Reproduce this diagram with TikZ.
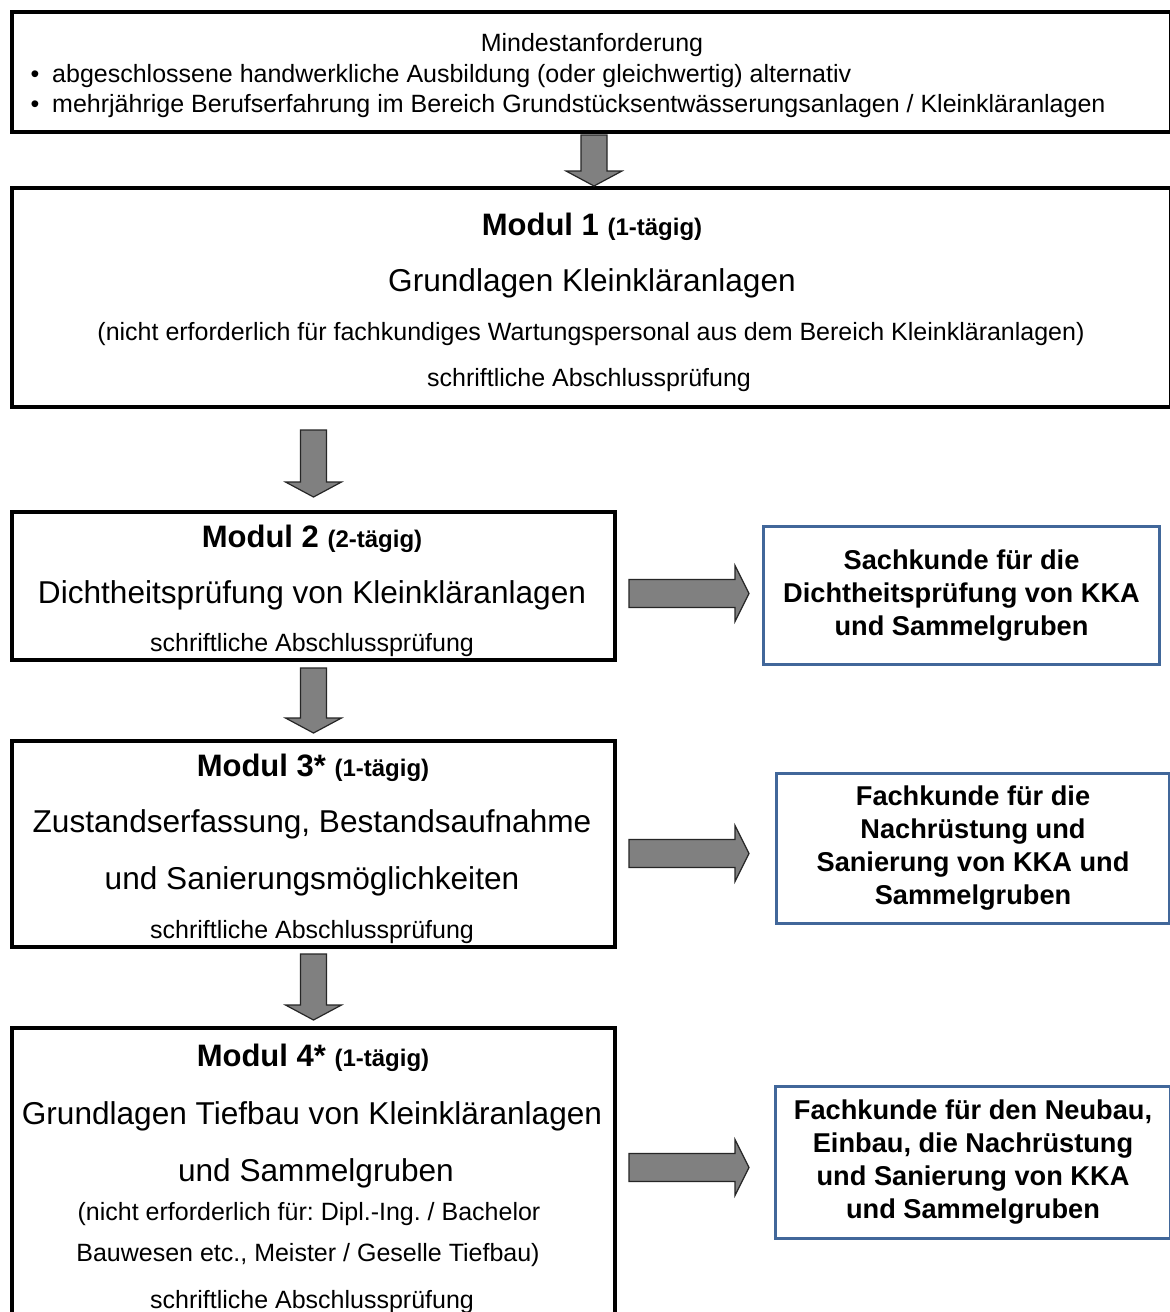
\documentclass[tikz,border=0pt]{standalone}
\usepackage{fontspec}
\setmainfont{Liberation Sans}
\usetikzlibrary{calc}
\frenchspacing
\definecolor{boxblue}{HTML}{41679A}
\definecolor{arrowgray}{HTML}{808080}
\newcommand{\fsN}{\fontsize{25}{30}\selectfont}
\newcommand{\fsL}{\fontsize{31.6}{38}\selectfont}
\newcommand{\fsH}{\bfseries\fontsize{31}{37}\selectfont}
\newcommand{\fsS}{\fontsize{24}{29}\selectfont}
\newcommand{\fsR}{\bfseries\fontsize{27.2}{33}\selectfont}
\begin{document}
\begin{tikzpicture}[x=1pt,y=-1pt,
  modbox/.style={draw=black,line width=4pt,fill=white,rectangle,inner sep=0pt,anchor=north west},
  resbox/.style={draw=boxblue,line width=3pt,fill=white,rectangle,inner sep=0pt,anchor=north west,align=center,font=\fsR},
  txt/.style={inner sep=0pt,text height=24pt,text depth=2pt},
  blockarrow/.style={draw=black!85,fill=arrowgray,line width=1.2pt,line join=miter},
  blockdown/.style={to path={($(\tikztostart)+(-13,0)$) -- ($(\tikztotarget)+(-13,-15)$) -- ($(\tikztotarget)+(-28,-15)$) -- (\tikztotarget) -- ($(\tikztotarget)+(28,-15)$) -- ($(\tikztotarget)+(13,-15)$) -- ($(\tikztostart)+(13,0)$) -- cycle}},
  blockright/.style={to path={($(\tikztostart)+(0,-14)$) -- ($(\tikztotarget)+(-14,-14)$) -- ($(\tikztotarget)+(-14,-28)$) -- (\tikztotarget) -- ($(\tikztotarget)+(-14,28)$) -- ($(\tikztotarget)+(-14,14)$) -- ($(\tikztostart)+(0,14)$) -- cycle}}
]
\useasboundingbox[fill=white] (0,0) rectangle (1170,1312);

% boxes
\node[modbox,minimum width=1159pt,minimum height=120pt] (top) at (10,10) {};
\node[modbox,minimum width=1159pt,minimum height=219pt] (m1) at (10,186) {};
\node[modbox,minimum width=603pt,minimum height=148pt] (m2) at (10,510) {};
\node[modbox,minimum width=603pt,minimum height=206pt] (m3) at (10,739) {};
\node[modbox,minimum width=603pt,minimum height=300pt] (m4) at (10,1026) {};

\node[resbox,minimum width=396pt,minimum height=138pt] (r1) at (762,525)
  {Sachkunde für die\\Dichtheitsprüfung von KKA\\und Sammelgruben};
\node[resbox,minimum width=393pt,minimum height=150pt] (r2) at (775,772)
  {Fachkunde für die\\Nachrüstung und\\Sanierung von KKA und\\Sammelgruben};
\node[resbox,minimum width=395pt,minimum height=152pt] (r3) at (774,1085)
  {Fachkunde für den Neubau,\\Einbau, die Nachrüstung\\und Sanierung von KKA\\und Sammelgruben};

% top box text
\node[txt,font=\fsN] (t0) at (592,40) {Mindestanforderung};
\node[txt,font=\fsN] (d1) at (35,71) {•};
\node[txt,font=\fsN,anchor=west] (t1) at (52,71) {abgeschlossene handwerkliche Ausbildung (oder gleichwertig) alternativ};
\node[txt,font=\fsN] (d2) at (35,101) {•};
\node[txt,font=\fsN,anchor=west] (t2) at (52,101) {mehrjährige Berufserfahrung im Bereich Grundstücksentwässerungsanlagen / Kleinkläranlagen};

% module 1
\node[txt,font=\fsH] (h1) at (592,224) {Modul 1 {\fsS(1-tägig)}};
\node[txt,font=\fsL] (g1) at (592,280) {Grundlagen Kleinkläranlagen};
\node[txt,font=\fsN] (n1) at (591,329) {(nicht erforderlich für fachkundiges Wartungspersonal aus dem Bereich Kleinkläranlagen)};
\node[txt,font=\fsN] (p1) at (589,375) {schriftliche Abschlussprüfung};

% module 2
\node[txt,font=\fsH] (h2) at (312,536) {Modul 2 {\fsS(2-tägig)}};
\node[txt,font=\fsL] (g2) at (312,592) {Dichtheitsprüfung von Kleinkläranlagen};
\node[txt,font=\fsN] (p2) at (312,640) {schriftliche Abschlussprüfung};

% module 3
\node[txt,font=\fsH] (h3) at (313,765) {Modul 3* {\fsS(1-tägig)}};
\node[txt,font=\fsL] (g3) at (312,821) {Zustandserfassung, Bestandsaufnahme};
\node[txt,font=\fsL] (g3b) at (312,878) {und Sanierungsmöglichkeiten};
\node[txt,font=\fsN] (p3) at (312,927) {schriftliche Abschlussprüfung};

% module 4
\node[txt,font=\fsH] (h4) at (313,1055) {Modul 4* {\fsS(1-tägig)}};
\node[txt,font=\fsL] (g4) at (312,1113) {Grundlagen Tiefbau von Kleinkläranlagen};
\node[txt,font=\fsL] (g4b) at (316,1170) {und Sammelgruben};
\node[txt,font=\fsN] (n4) at (309,1209) {(nicht erforderlich für: Dipl.-Ing. / Bachelor};
\node[txt,font=\fsN] (n4b) at (308,1250) {Bauwesen etc., Meister / Geselle Tiefbau)};
\node[txt,font=\fsN] (p4) at (312,1297) {schriftliche Abschlussprüfung};

% down arrows
\draw[blockarrow] ($(top.south)+(2.5,1)$) to[blockdown] ($(m1.north)+(2.5,0)$);
\draw[blockarrow] ($(m1.south -| m2.north)+(0,21)$) to[blockdown] ($(m2.north)+(0,-13)$);
\draw[blockarrow] ($(m2.south)+(0,6)$) to[blockdown] ($(m3.north)+(0,-6)$);
\draw[blockarrow] ($(m3.south)+(0,5)$) to[blockdown] ($(m4.north)+(0,-6)$);

% right arrows
\draw[blockarrow] ($(m2.east |- r1.west)+(12,-2)$) to[blockright] ($(r1.west)+(-13,-2)$);
\draw[blockarrow] ($(m3.east |- r2.west)+(12,5)$) to[blockright] ($(r2.west)+(-26,5)$);
\draw[blockarrow] ($(m4.east |- r3.west)+(12,5)$) to[blockright] ($(r3.west)+(-25,5)$);
\end{tikzpicture}
\end{document}
